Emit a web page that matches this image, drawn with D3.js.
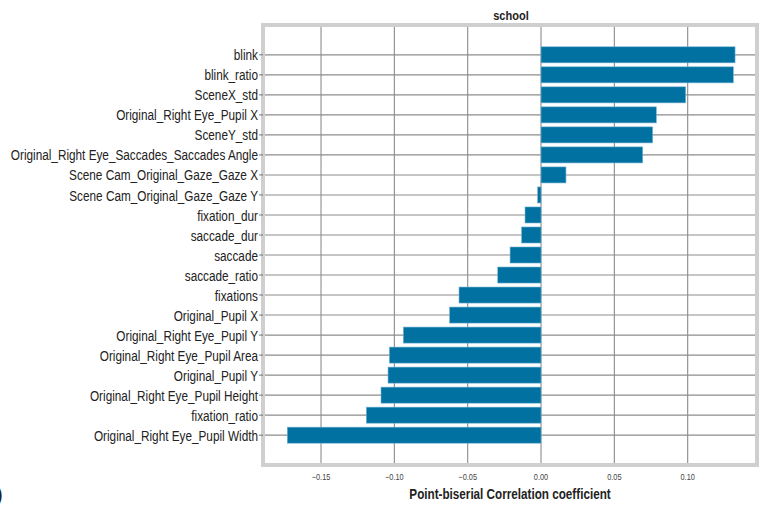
<!DOCTYPE html>
<html>
<head>
<meta charset="utf-8">
<style>
  body { margin: 0; background: #fff; }
  text { font-family: "Liberation Sans Narrow", "Liberation Sans", sans-serif; }
</style>
</head>
<body>
<div id="chart"></div>
<script src="https://cdn.jsdelivr.net/npm/d3@7"></script>
<script>
var features = ["blink", "blink_ratio", "SceneX_std", "Original_Right Eye_Pupil X", "SceneY_std",
  "Original_Right Eye_Saccades_Saccades Angle", "Scene Cam_Original_Gaze_Gaze X",
  "Scene Cam_Original_Gaze_Gaze Y", "fixation_dur", "saccade_dur", "saccade", "saccade_ratio",
  "fixations", "Original_Pupil X", "Original_Right Eye_Pupil Y", "Original_Right Eye_Pupil Area",
  "Original_Pupil Y", "Original_Right Eye_Pupil Height", "fixation_ratio",
  "Original_Right Eye_Pupil Width"];
var coefs = [0.1323, 0.1311, 0.0986, 0.0786, 0.0761, 0.0693, 0.0170, -0.0023, -0.0109, -0.0132,
  -0.0211, -0.0295, -0.0559, -0.0623, -0.0939, -0.1034, -0.1043, -0.1091, -0.1191, -0.1730];
var xTicks = [-0.15, -0.10, -0.05, 0.00, 0.05, 0.10];

(function () {
  var W = 761, H = 508;
  var pl = 265, pr = 755, pt = 27, pb = 463;
  var narrow = 0.785;

  var svg = d3.select("#chart").append("svg").attr("width", W).attr("height", H);

  var x = d3.scaleLinear().domain([-0.1882, 0.1459]).range([pl, pr]);
  var y = d3.scaleLinear().domain([-1.39, 20.39]).range([pt, pb]);

  function label(px, py, sx) {
    return "translate(" + px + "," + py + ") scale(" + sx + ",1)";
  }

  // frame
  svg.append("rect")
    .attr("x", pl - 2).attr("y", pt - 2)
    .attr("width", pr - pl + 4).attr("height", pb - pt + 4)
    .attr("fill", "#fff").attr("stroke", "#cfcfcf").attr("stroke-width", 4);

  // grid
  svg.selectAll("line.vg").data(xTicks).enter().append("line")
    .attr("x1", function (d) { return x(d); }).attr("x2", function (d) { return x(d); })
    .attr("y1", pt).attr("y2", pb)
    .attr("stroke", "#8c8c8c").attr("stroke-width", 1.1);

  svg.selectAll("line.hg").data(features).enter().append("line")
    .attr("x1", pl).attr("x2", pr)
    .attr("y1", function (d, i) { return y(i); }).attr("y2", function (d, i) { return y(i); })
    .attr("stroke", "#8c8c8c").attr("stroke-width", 1.1);

  // bars
  var bh = y(0.8) - y(0);
  svg.selectAll("rect.bar").data(coefs).enter().append("rect")
    .attr("x", function (d) { return Math.min(x(0), x(d)); })
    .attr("y", function (d, i) { return y(i) - bh / 2; })
    .attr("width", function (d) { return Math.abs(x(d) - x(0)); })
    .attr("height", bh)
    .attr("fill", "#0071a1")
    .attr("stroke", "#6fb0d2").attr("stroke-width", 0.6);

  // y labels + small ticks
  svg.selectAll("line.yt").data(features).enter().append("line")
    .attr("x1", 259).attr("x2", 263)
    .attr("y1", function (d, i) { return y(i); }).attr("y2", function (d, i) { return y(i); })
    .attr("stroke", "#555").attr("stroke-width", 0.8);

  svg.selectAll("text.yl").data(features).enter().append("text")
    .attr("transform", function (d, i) { return label(258, y(i), narrow); })
    .attr("dy", "0.37em")
    .attr("text-anchor", "end")
    .attr("font-size", 15)
    .attr("fill", "#222")
    .text(function (d) { return d; });

  // x tick labels
  svg.selectAll("text.xl").data(xTicks).enter().append("text")
    .attr("transform", function (d) { return label(x(d), 480, 0.82); })
    .attr("text-anchor", "middle")
    .attr("font-size", 9)
    .attr("fill", "#444")
    .text(d3.format(".2f"));

  svg.append("text")
    .attr("transform", label(510, 499, 0.78))
    .attr("text-anchor", "middle")
    .attr("font-size", 15).attr("font-weight", "bold")
    .attr("fill", "#222")
    .text("Point-biserial Correlation coefficient");

  svg.append("text")
    .attr("transform", label(511, 20, 0.85))
    .attr("text-anchor", "middle")
    .attr("font-size", 13).attr("font-weight", "bold")
    .attr("fill", "#222")
    .text("school");

  svg.append("text")
    .attr("x", -5).attr("y", 502)
    .attr("font-size", 24)
    .attr("fill", "#222")
    .text(")");
})();
</script>
</body>
</html>
